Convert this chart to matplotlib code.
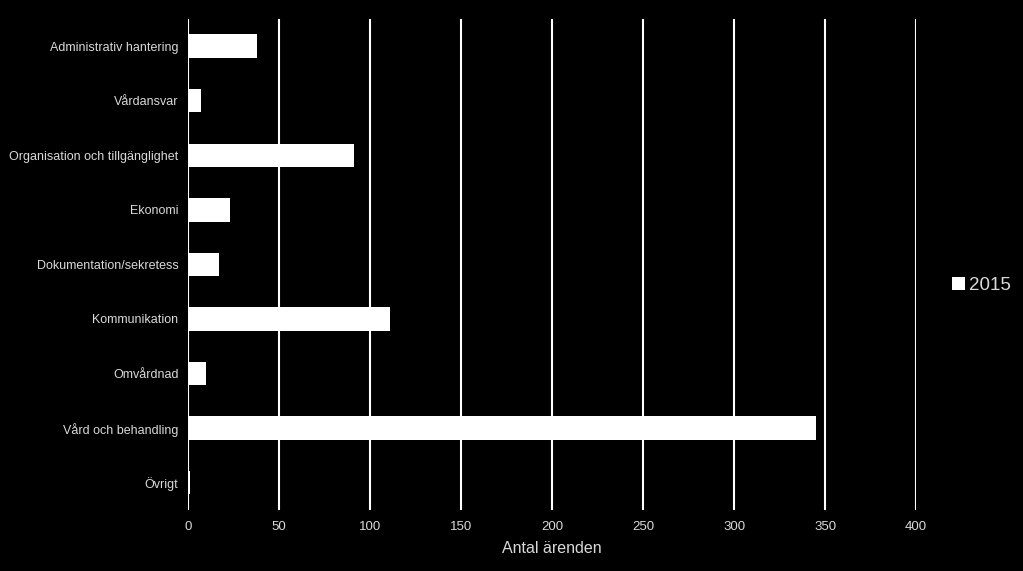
import numpy as np
import matplotlib.pyplot as plt

plt.rcParams['font.family'] = ['Liberation Sans', 'DejaVu Sans']

categories = ['Administrativ hantering', 'Vårdansvar', 'Organisation och tillgänglighet',
              'Ekonomi', 'Dokumentation/sekretess', 'Kommunikation', 'Omvårdnad',
              'Vård och behandling', 'Övrigt']
values_2015 = [38, 7, 91, 23, 17, 111, 10, 345, 1]
xticks = [0, 50, 100, 150, 200, 250, 300, 350, 400]

fig = plt.figure(figsize=(10.23, 5.71), dpi=100, facecolor='black')
ax = fig.add_axes([0.184, 0.107, 0.7115, 0.86])
ax.set_facecolor('black')

y = np.arange(len(categories))
ax.barh(y, values_2015, height=0.43, color='white', label='2015', zorder=3)

ax.set_ylim(len(categories) - 0.5, -0.5)
ax.set_xlim(0, 400)
ax.set_xticks(xticks)
ax.set_yticks(y)
ax.set_yticklabels(categories)
ax.tick_params(axis='both', length=0, colors='#d9d9d9')
ax.tick_params(axis='y', pad=7, labelsize=9)
ax.tick_params(axis='x', pad=8, labelsize=9.5)
ax.grid(axis='x', color='white', linewidth=1.5, zorder=0)
for s in ax.spines.values():
    s.set_visible(False)

ax.set_xlabel('Antal ärenden', color='#d9d9d9', fontsize=11.5, labelpad=6)

leg = fig.legend(loc='center left', bbox_to_anchor=(0.914, 0.5), frameon=False,
                 fontsize=13.5, handlelength=0.7, handleheight=0.7, handletextpad=0.2)
for t in leg.get_texts():
    t.set_color('#d9d9d9')

fig.savefig('out.png', dpi=100, facecolor='black')
